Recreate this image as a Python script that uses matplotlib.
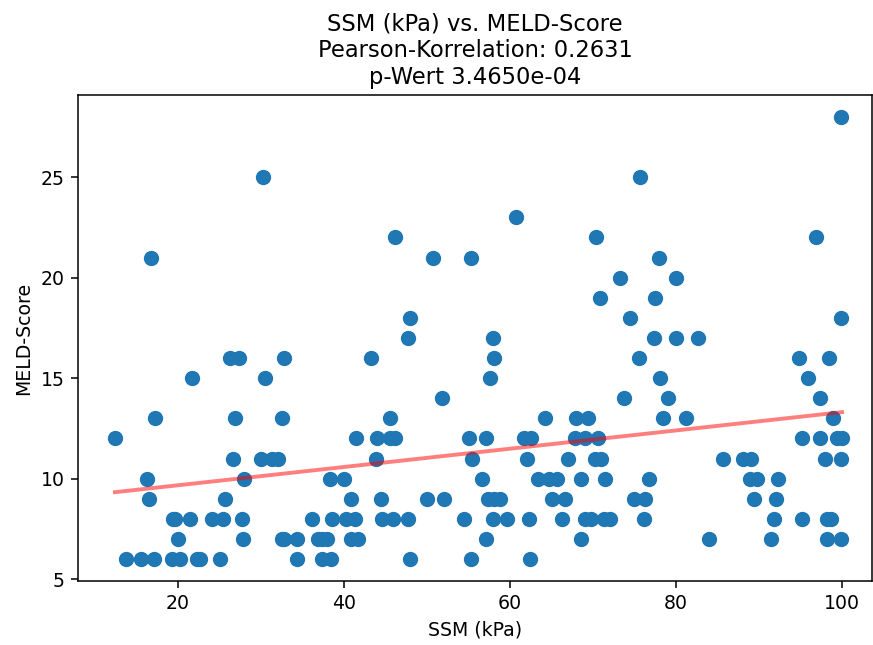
import numpy as np
import matplotlib
matplotlib.use("Agg")
import matplotlib.pyplot as plt

# SSM (kPa) values grouped by MELD score
meld_levels = [28, 25, 23, 22, 21, 20, 19, 18, 17, 16, 15, 14, 13, 12, 11, 10, 9, 8, 7, 6]
ssm_28 = [99.9]
ssm_25 = [30.3, 75.7]
ssm_23 = [60.7]
ssm_22 = [46.2, 70.4, 96.8]
ssm_21 = [16.8, 50.7, 55.3, 78.0]
ssm_20 = [73.3, 80.0]
ssm_19 = [70.8, 77.5]
ssm_18 = [48.0, 74.4, 99.9]
ssm_17 = [47.7, 57.9, 77.3, 80.0, 82.7]
ssm_16 = [26.3, 27.4, 32.8, 43.2, 58.1, 75.5, 94.8, 98.4]
ssm_15 = [21.7, 30.5, 57.6, 78.1, 95.9]
ssm_14 = [51.8, 73.7, 79.0, 97.4]
ssm_13 = [17.2, 26.9, 32.5, 45.6, 64.2, 67.9, 69.4, 78.4, 81.2, 98.9]
ssm_12 = [12.4, 41.4, 44.0, 45.6, 46.2, 55.0, 57.1, 61.7, 62.5, 67.8, 69.0, 70.6,
          95.2, 97.3, 99.4, 100.0]
ssm_11 = [26.6, 30.0, 31.3, 32.1, 43.8, 55.4, 62.0, 67.0, 70.2, 70.9, 85.6, 88.1,
          89.0, 98.0, 99.9]
ssm_10 = [16.3, 28.0, 38.3, 40.0, 56.6, 63.4, 64.7, 65.6, 68.5, 71.5, 76.7, 88.9,
          89.8, 92.3]
ssm_9 = [16.5, 25.7, 40.9, 44.4, 50.0, 52.0, 57.4, 58.1, 58.8, 65.0, 66.6, 74.9,
         76.3, 89.4, 92.0]
ssm_8 = [19.4, 19.7, 21.5, 24.1, 25.4, 27.7, 36.2, 38.5, 40.3, 41.3, 44.6, 45.9,
         47.7, 54.5, 58.0, 59.6, 62.3, 66.3, 69.0, 69.8, 71.3, 72.1, 76.1, 91.8,
         95.2, 98.2, 98.7]
ssm_7 = [20.0, 27.8, 32.5, 32.8, 34.3, 36.9, 37.3, 38.0, 40.9, 41.7, 57.1, 68.6,
         84.0, 91.4, 98.2, 99.9]
ssm_6 = [13.7, 15.5, 17.1, 19.3, 20.2, 22.3, 22.7, 25.1, 34.3, 37.3, 38.4, 48.0,
         55.3, 62.4]

groups = [ssm_28, ssm_25, ssm_23, ssm_22, ssm_21, ssm_20, ssm_19, ssm_18, ssm_17,
          ssm_16, ssm_15, ssm_14, ssm_13, ssm_12, ssm_11, ssm_10, ssm_9, ssm_8,
          ssm_7, ssm_6]

x = np.concatenate([np.array(g, dtype=float) for g in groups])
y = np.concatenate([np.full(len(g), lvl, dtype=float) for g, lvl in zip(groups, meld_levels)])

title_text = "SSM (kPa) vs. MELD-Score\nPearson-Korrelation: 0.2631\np-Wert 3.4650e-04"
x_ticks = [20, 40, 60, 80, 100]
y_ticks = [5, 10, 15, 20, 25]

fig = plt.figure(figsize=(8.73, 6.45), dpi=100)
ax = fig.add_axes([0.0893, 0.099, 0.9095, 0.754])
ax.scatter(x, y, s=100, color="#1f77b4", zorder=2)

slope, intercept = np.polyfit(x, y, 1)
xl = np.array([x.min(), x.max()])
ax.plot(xl, slope * xl + intercept, color="red", alpha=0.5, linewidth=2.8, zorder=3)

ax.set_xlim(7.95, 103.6)
ax.set_xticks(x_ticks)
ax.set_yticks(y_ticks)
ax.tick_params(labelsize=13.6, length=4.8, width=1.1, pad=4.8)
for s in ax.spines.values():
    s.set_linewidth(1.1)
ax.set_xlabel("SSM (kPa)", fontsize=13.6, labelpad=5.4)
ax.set_ylabel("MELD-Score", fontsize=13.6, labelpad=5.4)
ax.set_title(title_text, fontsize=16.3, pad=8)

fig.savefig("out.png", dpi=100)
